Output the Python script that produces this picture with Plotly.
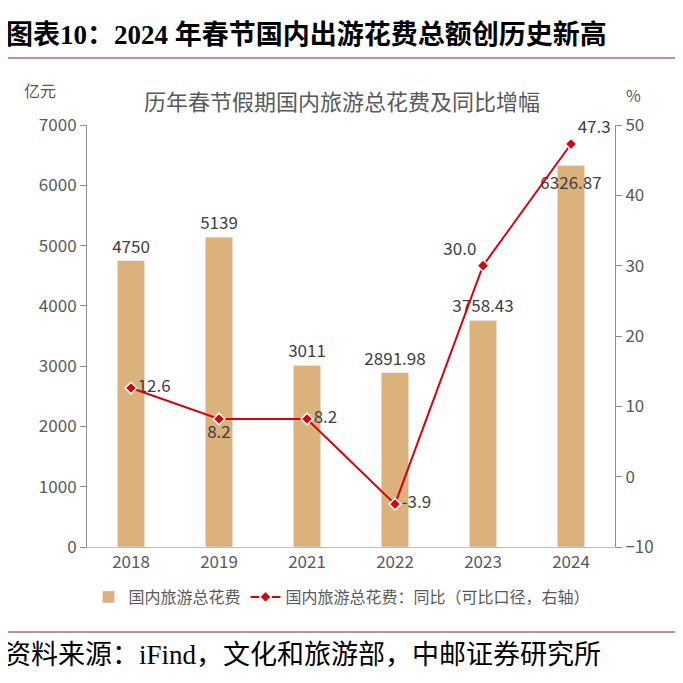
import plotly.graph_objects as go

years = ["2018", "2019", "2021", "2022", "2023", "2024"]
spend = [4750, 5139, 3011, 2891.98, 3758.43, 6326.87]
spend_labels = ["4750", "5139", "3011", "2891.98", "3758.43", "6326.87"]
yoy = [12.6, 8.2, 8.2, -3.9, 30.0, 47.3]
yoy_labels = ["12.6", "8.2", "8.2", "-3.9", "30.0", "47.3"]

# label placement (style only)
spend_lbl_pos = ["outside", "outside", "outside", "outside", "outside", "inside"]
yoy_lbl_pos = ["middle right", "bottom center", "middle right", "middle right",
               "top left", "top right"]

BAR = "#DBB17C"
RED = "#D9000D"
GREY = "#595959"
LBL = "#404040"
FONT = "Noto Sans CJK SC"
SERIF = "Liberation Serif, Noto Sans CJK SC"
W = H = 683.0
OFF = 8.0  # default page body margin


def px(x):
    return (x - OFF) / W


def py(y):
    return (H - (y - OFF)) / H


fig = go.Figure()
fig.add_trace(go.Bar(x=years, y=spend, name="国内旅游总花费", marker_color=BAR,
                     width=0.31, yaxis="y",
                     text=spend_labels, textposition=spend_lbl_pos, textangle=0,
                     insidetextanchor="end", constraintext="none", cliponaxis=False,
                     textfont=dict(family=FONT, size=17, color=LBL),
                     outsidetextfont=dict(family=FONT, size=17, color=LBL),
                     insidetextfont=dict(family=FONT, size=17, color=LBL)))
fig.add_trace(go.Scatter(x=years, y=yoy, name="国内旅游总花费：同比（可比口径，右轴）",
                         mode="lines+markers+text", yaxis="y2",
                         text=yoy_labels, textposition=yoy_lbl_pos,
                         textfont=dict(family=FONT, size=17, color=LBL),
                         cliponaxis=False,
                         line=dict(color=RED, width=2),
                         marker=dict(symbol="diamond", size=9, color=RED,
                                     line=dict(color="white", width=1.5))))

title_ann = [
    dict(xref="paper", yref="paper", x=px(4), y=py(35), xanchor="left", yanchor="middle",
         text="<b>图表10：2024 年春节国内出游花费总额创历史新高</b>", showarrow=False,
         font=dict(family=SERIF, size=27, color="black")),
    dict(xref="paper", yref="paper", x=px(342), y=py(100), xanchor="center", yanchor="middle",
         text="历年春节假期国内旅游总花费及同比增幅", showarrow=False,
         font=dict(family=FONT, size=22, color=GREY)),
    dict(xref="paper", yref="paper", x=px(40), y=py(90), xanchor="center", yanchor="middle",
         text="亿元", showarrow=False, font=dict(family=FONT, size=16, color=GREY)),
    dict(xref="paper", yref="paper", x=px(633), y=py(95), xanchor="center", yanchor="middle",
         text="%", showarrow=False, font=dict(family=FONT, size=16, color=GREY)),
    dict(xref="paper", yref="paper", x=px(2), y=py(655), xanchor="left", yanchor="middle",
         text="资料来源：iFind，文化和旅游部，中邮证券研究所", showarrow=False,
         font=dict(family=SERIF, size=27, color="black")),
]

shapes = [
    dict(type="line", xref="paper", yref="paper", x0=0, x1=1, y0=py(5), y1=py(5),
         line=dict(color="#C0141C", width=4)),
    dict(type="line", xref="paper", yref="paper", x0=0, x1=1, y0=py(58), y1=py(58),
         line=dict(color="#8B1A1A", width=1)),
    dict(type="line", xref="paper", yref="paper", x0=0, x1=1, y0=py(632), y1=py(632),
         line=dict(color="#8B1A1A", width=1)),
]

fig.update_layout(
    width=683, height=683,
    margin=dict(l=0, r=0, t=0, b=0, pad=0, autoexpand=False),
    paper_bgcolor="white", plot_bgcolor="white",
    showlegend=True,
    legend=dict(orientation="h", x=px(342), y=py(597),
                xanchor="center", yanchor="middle",
                font=dict(family=FONT, size=16, color=GREY)),
    xaxis=dict(type="category", domain=[px(87), px(615)], showline=True, automargin=False,
               linecolor="#BFBFBF", linewidth=1, ticks="",
               tickfont=dict(family=FONT, size=17, color=GREY), showgrid=False),
    yaxis=dict(range=[0, 7000], dtick=1000, domain=[py(547), py(125)], showline=True,
               automargin=False,
               linecolor="#8C8C8C", ticks="outside", ticklen=6, tickcolor="#8C8C8C",
               showgrid=False, zeroline=False,
               tickfont=dict(family=FONT, size=17, color=GREY)),
    yaxis2=dict(range=[-10, 50], dtick=10, overlaying="y", side="right", anchor="x",
                automargin=False,
                showline=True, linecolor="#8C8C8C", ticks="outside", ticklen=6,
                tickcolor="#8C8C8C", showgrid=False, zeroline=False,
                tickfont=dict(family=FONT, size=17, color=GREY)),
    annotations=title_ann,
    shapes=shapes,
)

fig.write_html("out.html")
